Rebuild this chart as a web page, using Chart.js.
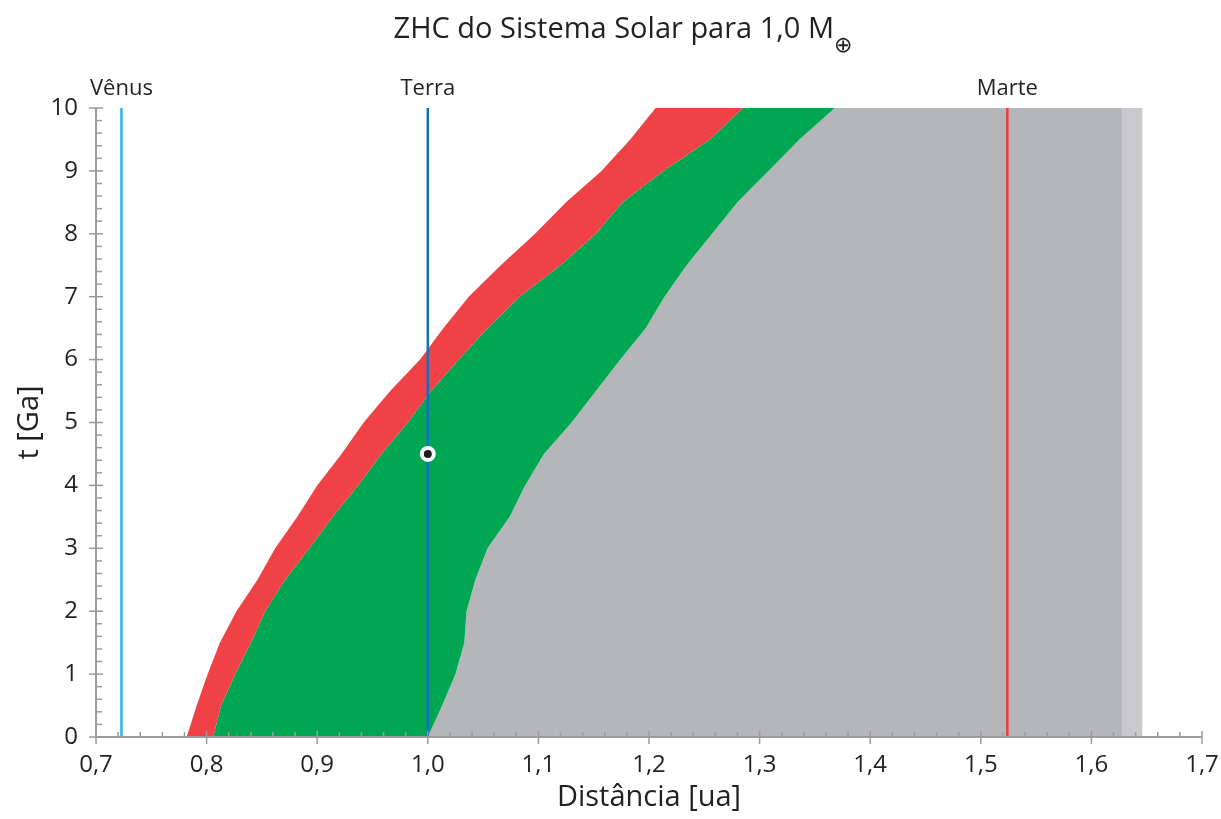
<!DOCTYPE html>
<html lang="pt">
<head>
<meta charset="utf-8">
<title>ZHC do Sistema Solar</title>
<script src="https://cdn.jsdelivr.net/npm/chart.js@4.4.1/dist/chart.umd.min.js"></script>
<style>
  html, body { margin: 0; padding: 0; background: #fff; }
  #wrap { width: 1221px; height: 819px; position: relative; }
</style>
</head>
<body>
<div id="wrap"><canvas id="zhc"></canvas></div>
<script>
/* =========================================
   1. DADOS
   ========================================= */
// idade do Sol [Ga]
const tempos = [0, 0.5, 1, 1.5, 2, 2.5, 3, 3.5, 4, 4.5, 5, 5.5, 6, 6.5, 7, 7.5, 8, 8.5, 9, 9.5, 10];

// borda interna da faixa vermelha [ua]
const limiteInterno = [0.782, 0.791, 0.801, 0.812, 0.827, 0.846, 0.862, 0.882, 0.900, 0.922, 0.942,
                       0.966, 0.993, 1.014, 1.037, 1.066, 1.097, 1.125, 1.157, 1.183, 1.206];
// fronteira vermelho / verde
const limiteVermelhoVerde = [0.806, 0.813, 0.826, 0.840, 0.853, 0.871, 0.893, 0.914, 0.937, 0.958, 0.982,
                             1.003, 1.028, 1.054, 1.083, 1.120, 1.152, 1.176, 1.213, 1.255, 1.285];
// fronteira verde / cinza
const limiteVerdeCinza = [1.000, 1.013, 1.025, 1.033, 1.035, 1.043, 1.054, 1.074, 1.088, 1.105, 1.130,
                          1.152, 1.174, 1.197, 1.214, 1.234, 1.257, 1.280, 1.308, 1.336, 1.368];
// borda externa da grade (faixa cinza e faixa clara no fim)
const temposBorda = [0, 10];
const limiteCinza = [1.628, 1.628];
const limiteExterno = [1.646, 1.646];

const planetas = ['Vênus', 'Terra', 'Marte'];
const distPlanetas = [0.723, 1.0, 1.524];
const coresPlanetas = ['#2bb6e7', '#1270bd', '#ee3b3f'];

const solDist = 1.0;
const solIdade = 4.5;

const ticksX = [0.7, 0.8, 0.9, 1.0, 1.1, 1.2, 1.3, 1.4, 1.5, 1.6, 1.7];
const ticksY = [0, 1, 2, 3, 4, 5, 6, 7, 8, 9, 10];

/* =========================================
   2. TEXTOS E DESENHO EXTRA
   ========================================= */
const FONTE = '"Open Sans", "Noto Sans", sans-serif';
const TEXTO = '#231f20';
const EIXO = '#9b9b9d';

const serie = (xs, ts) => ts.map((t, i) => ({ x: xs[i], y: t }));

const decoracao = {
    id: 'decoracao',
    afterDraw(chart) {
        const { ctx, chartArea: a, scales: { x, y } } = chart;
        ctx.save();

        // eixos
        ctx.strokeStyle = EIXO;
        ctx.lineWidth = 2;
        ctx.beginPath();
        ctx.moveTo(a.left, a.top);
        ctx.lineTo(a.left, a.bottom);
        ctx.lineTo(a.right, a.bottom);
        ctx.stroke();

        // marcas do eixo x (maiores cruzam o eixo, menores só para dentro)
        ctx.lineWidth = 1.5;
        const passoX = (ticksX[1] - ticksX[0]) / 5;
        for (let k = 0; k <= (ticksX.length - 1) * 5; k++) {
            const px = x.getPixelForValue(ticksX[0] + k * passoX);
            ctx.beginPath();
            if (k % 5 === 0) { ctx.moveTo(px, a.bottom - 6); ctx.lineTo(px, a.bottom + 7); }
            else { ctx.moveTo(px, a.bottom - 5); ctx.lineTo(px, a.bottom); }
            ctx.stroke();
        }
        // marcas do eixo y
        const passoY = (ticksY[1] - ticksY[0]) / 5;
        for (let k = 0; k <= (ticksY.length - 1) * 5; k++) {
            const py = y.getPixelForValue(ticksY[0] + k * passoY);
            ctx.beginPath();
            if (k % 5 === 0) { ctx.moveTo(a.left - 7, py); ctx.lineTo(a.left + 7, py); }
            else { ctx.moveTo(a.left, py); ctx.lineTo(a.left + 6, py); }
            ctx.stroke();
        }

        ctx.fillStyle = TEXTO;
        ctx.textBaseline = 'alphabetic';

        // título com o símbolo da Terra subscrito
        const principal = 'ZHC do Sistema Solar para 1,0 M';
        const sub = '\u2295';
        ctx.font = '29px ' + FONTE;
        const w1 = ctx.measureText(principal).width;
        ctx.font = '22px "DejaVu Sans"';
        const w2 = ctx.measureText(sub).width;
        const x0 = 623 - (w1 + w2) / 2;
        ctx.textAlign = 'left';
        ctx.font = '29px ' + FONTE;
        ctx.fillText(principal, x0, 38);
        ctx.font = '22px "DejaVu Sans"';
        ctx.fillText(sub, x0 + w1, 52);

        // nomes dos planetas
        ctx.textAlign = 'center';
        ctx.font = '22px ' + FONTE;
        planetas.forEach((p, i) => {
            ctx.fillText(p, x.getPixelForValue(distPlanetas[i]), 95);
        });

        // títulos dos eixos
        ctx.font = '29px ' + FONTE;
        ctx.fillText('Distância [ua]', (a.left + a.right) / 2, 806);
        ctx.save();
        ctx.translate(38, (a.top + a.bottom) / 2);
        ctx.rotate(-Math.PI / 2);
        ctx.font = '29px ' + FONTE;
        ctx.fillText('t [Ga]', 0, 0);
        ctx.restore();

        ctx.restore();
    }
};

/* =========================================
   3. GRÁFICO
   ========================================= */
const regiao = (label, dados, cor, preenche) => ({
    label,
    data: dados,
    borderWidth: 0,
    pointRadius: 0,
    pointHoverRadius: 0,
    tension: 0,
    fill: preenche,
    backgroundColor: cor
});

new Chart(document.getElementById('zhc'), {
    type: 'line',
    data: {
        datasets: [
            {
                label: 'Sol hoje',
                data: [{ x: solDist, y: solIdade }],
                showLine: false,
                pointRadius: 6,
                pointBorderWidth: 4,
                pointBackgroundColor: '#1d1d1b',
                pointBorderColor: '#ffffff'
            },
            ...planetas.map((p, i) => ({
                label: p,
                data: [{ x: distPlanetas[i], y: ticksY[0] }, { x: distPlanetas[i], y: ticksY[ticksY.length - 1] }],
                borderColor: coresPlanetas[i],
                borderWidth: 2.5,
                pointRadius: 0,
                fill: false
            })),
            regiao('borda interna', serie(limiteInterno, tempos), 'rgba(0,0,0,0)', false),
            regiao('efeito estufa', serie(limiteVermelhoVerde, tempos), '#ef4146', '-1'),
            regiao('ZHC', serie(limiteVerdeCinza, tempos), '#00a651', '-1'),
            regiao('fora da ZHC', serie(limiteCinza, temposBorda), '#b5b6ba', '-1'),
            regiao('borda da grade', serie(limiteExterno, temposBorda), '#c8c9cc', '-1')
        ]
    },
    options: {
        indexAxis: 'y',
        responsive: true,
        maintainAspectRatio: false,
        animation: false,
        events: [],
        layout: { padding: { top: 108, right: 19, left: 0, bottom: 0 } },
        plugins: {
            legend: { display: false },
            tooltip: { enabled: false },
            title: { display: false }
        },
        scales: {
            x: {
                type: 'linear',
                min: ticksX[0],
                max: ticksX[ticksX.length - 1],
                afterBuildTicks: s => { s.ticks = ticksX.map(v => ({ value: v })); },
                afterFit: s => { s.height = 82; s.paddingLeft = 0; s.paddingRight = 0; },
                grid: { display: false, drawTicks: false },
                border: { display: false },
                ticks: {
                    padding: 14,
                    color: TEXTO,
                    font: { family: FONTE, size: 24 },
                    maxRotation: 0,
                    callback: v => Number(v).toFixed(1).replace('.', ',')
                }
            },
            y: {
                type: 'linear',
                min: ticksY[0],
                max: ticksY[ticksY.length - 1],
                afterBuildTicks: s => { s.ticks = ticksY.map(v => ({ value: v })); },
                afterFit: s => { s.width = 96; s.paddingTop = 0; s.paddingBottom = 0; },
                grid: { display: false, drawTicks: false },
                border: { display: false },
                ticks: {
                    padding: 18,
                    color: TEXTO,
                    font: { family: FONTE, size: 24 },
                    callback: v => String(v)
                }
            }
        }
    },
    plugins: [decoracao]
});
</script>
</body>
</html>
